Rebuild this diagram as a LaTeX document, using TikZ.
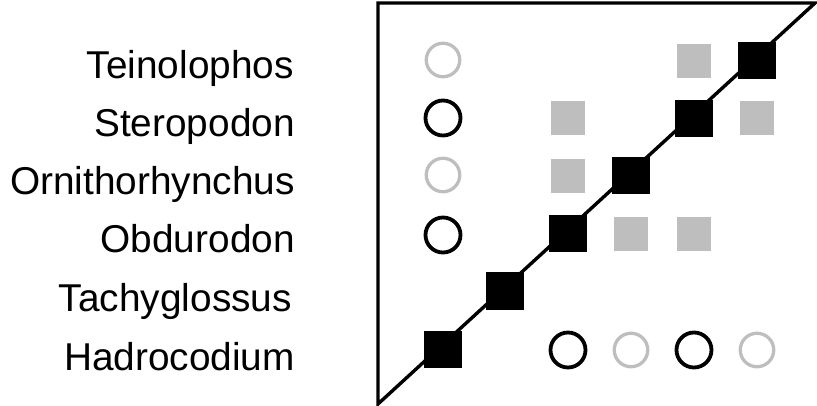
\documentclass[tikz,border=0pt]{standalone}
\usepackage{fontspec}
\setmainfont{Liberation Sans}
\definecolor{lgray}{RGB}{190,190,190}
\begin{document}
\begin{tikzpicture}[x=1pt,y=-1pt,
  lbl/.style={anchor=base east,inner sep=0pt,font=\fontsize{38.8}{40}\selectfont},
  bsq/.style={fill=black,draw=none,minimum width=38pt,minimum height=37pt,inner sep=0pt},
  gsq/.style={fill=lgray,draw=none,minimum width=34.5pt,minimum height=34pt,inner sep=0pt},
  bcirc/.style={circle,draw=black,line width=3.8pt,minimum size=35pt,inner sep=0pt},
  gcirc/.style={circle,draw=lgray,line width=3.3pt,minimum size=33.5pt,inner sep=0pt},
  frame/.style={line width=3.4pt,line join=miter}]
\useasboundingbox (0,0) rectangle (817,406);
% labels
\node[lbl] (t1) at (294,79) {Teinolophos};
\node[lbl] (t2) at (295,137) {Steropodon};
\node[lbl] (t3) at (295,195) {Ornithorhynchus};
\node[lbl] (t4) at (295,253) {Obdurodon};
\node[lbl] (t5) at (292,311) {Tachyglossus};
\node[lbl] (t6) at (295,370) {Hadrocodium};
% triangle
\coordinate (tl) at (378,3);
\coordinate (tr) at (815,3);
\coordinate (bl) at (378,404);
\draw[frame] (bl) -- (tl) -- (tr) -- cycle;
% diagonal black squares
\node[bsq] (b1) at (443,349) {};
\node[bsq] (b2) at (505,291) {};
\node[bsq] (b3) at (568,234) {};
\node[bsq] (b4) at (631,176) {};
\node[bsq] (b5) at (694,119) {};
\node[bsq] (b6) at (757,61) {};
% gray squares
\node[gsq] (g1) at (694,61) {};
\node[gsq] (g2) at (568,118) {};
\node[gsq] (g3) at (757,118) {};
\node[gsq] (g4) at (568,176) {};
\node[gsq] (g5) at (631,234) {};
\node[gsq] (g6) at (694,234) {};
% left circles
\node[gcirc] (c1) at (443,60) {};
\node[bcirc] (c2) at (443,118) {};
\node[gcirc] (c3) at (443,175) {};
\node[bcirc] (c4) at (443,235) {};
% bottom circles
\node[bcirc] (c5) at (568,350) {};
\node[gcirc] (c6) at (631,350) {};
\node[bcirc] (c7) at (694,350) {};
\node[gcirc] (c8) at (757,350) {};
\end{tikzpicture}
\end{document}
